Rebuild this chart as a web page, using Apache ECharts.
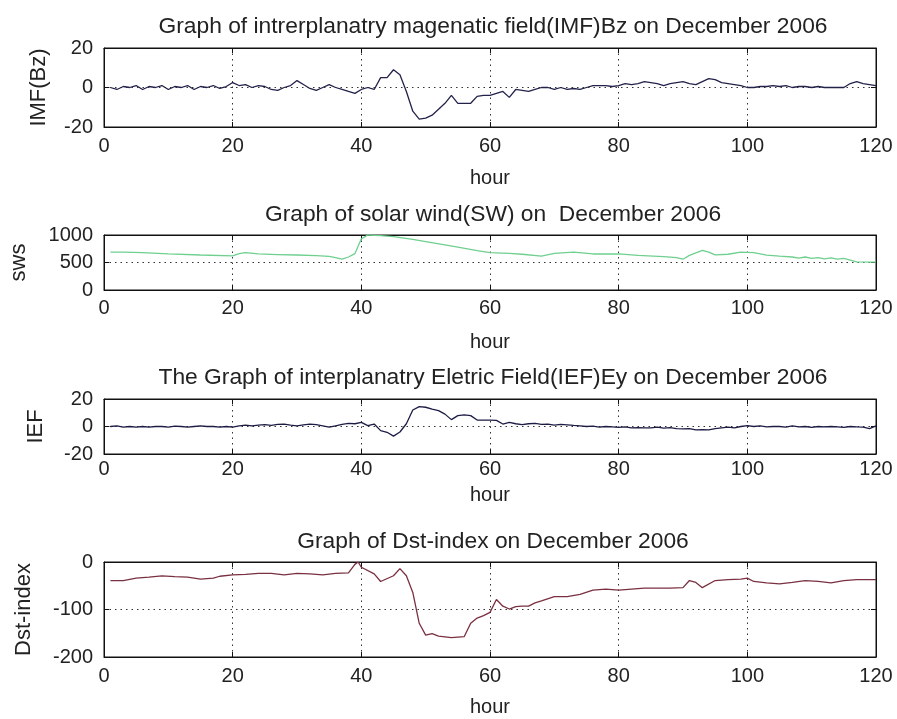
<!DOCTYPE html>
<html>
<head>
<meta charset="utf-8">
<script src="https://cdn.jsdelivr.net/npm/echarts@6/dist/echarts.min.js"></script>
<style>
html,body{margin:0;padding:0;background:#fff;}
#main{width:897px;height:719px;}
</style>
</head>
<body>
<div id="main"></div>
<script>
//各面板的数据,按图上读出的小时和数值
var imfHours = [1,2,3,4,5,6,7,8,9,10,11,12,13,14,15,16,17,18,19,20,21,22,23,24,25,26,27,28,29,30,31,32,33,34,35,36,37,38,39,40,41,42,43,44,45,46,47,48,49,50,51,52,53,54,55,56,57,58,59,60,61,62,63,64,65,66,67,68,69,70,71,72,73,74,75,76,77,78,79,80,81,82,83,84,85,86,87,88,89,90,91,92,93,94,95,96,97,98,99,100,101,102,103,104,105,106,107,108,109,110,111,112,113,114,115,116,117,118,119,120];
var imfValues = [0,-1,0.5,0,1,-1,0.5,0,1,-1,0.5,0,1,-1,0.5,0,1,-0.5,0.5,2.5,1,1.5,0,1,0.5,-1,-1.5,0,1,3.5,1.5,-0.5,-1.5,0,1.5,0,-1,-2,-3,-1,0,-1,5,5,9,6.5,-2,-12,-16,-15.5,-14,-11,-8,-4,-8,-8,-8,-4.5,-4,-4,-3,-2,-5,-1,-1.5,-2,-1,0,0,-1,0,-1,-0.5,-1,0,1,1,1,0.5,1,2,1.5,2,3,2.5,2,1,2,2.5,3,2,1.5,3,4.5,4,2.5,2,1.5,1,0,0,0.5,0.5,1,0.5,1,0,0.5,0.5,0,0.5,0,0,0,0,2,3,2,1.5,1];

var swsHours = [1,3,6,10,15,20,21,22,24,27,30,33,35,36,37,38,39,40,41,43,45,48,50,53,55,58,60,63,65,68,70,73,76,80,83,87,89,90,91,93,94,95,97,99,101,103,105,107,108,109,110,111,112,113,114,115,117,120];
var swsValues = [690,690,680,655,636,620,660,680,655,645,636,625,610,590,560,600,660,930,1000,990,970,920,880,820,780,715,680,665,650,615,665,690,655,655,630,605,590,560,630,720,690,640,650,690,680,635,615,600,580,600,575,590,565,585,560,575,510,505];

var iefHours = imfHours;
var iefValues = [0,0.5,-0.5,0,-0.5,0,-0.5,0,0,-0.5,0.3,0,-0.5,0,0.5,0,0,-0.5,0,-0.5,0.5,1,0.5,1,1.3,0.8,1.5,1.8,1,0.5,1.2,1.8,1.3,0.5,-0.5,0.5,1.5,2.3,2,3,0.6,1.8,-3,-4.2,-7,-4,2,12,14.5,14,12.7,11.5,9,5,7.9,8.4,7.9,4.7,4.7,4.7,4.5,1.8,3,2,1.3,2,2.3,1.5,1.8,1,1.5,1.2,0.8,0.5,0,0.3,-0.5,0,-0.3,-0.6,-0.3,-1,-0.8,-1,-1,-0.5,-1.2,-0.8,-1.5,-1.8,-1.5,-2.5,-2.2,-2.5,-1.5,-1,-0.5,-1,0,0.6,0,0.5,-0.3,0,0,-0.5,0.5,-0.3,0,-0.6,0,-0.3,0,-0.3,-0.6,0,-0.3,-0.5,-1.5,0.5];

var dstHours = [1,3,5,7,9,11,13,15,17,18,20,22,24,26,28,30,32,34,36,38,39,39.5,40,42,43,45,46,47,48,49,50,51,52,54,56,57,58,59,60,61,62,63,64,65,66,67,68,70,72,74,76,78,80,82,84,86,88,90,91,92,93,95,97,99,100,101,103,105,107,109,111,113,115,117,119,120];
var dstValues = [-39,-39,-34,-32,-29,-31,-32,-36,-34,-30,-27,-26,-24,-24,-27,-24,-25,-27,-24,-23,-5,0,-11,-25,-41,-29,-14,-29,-64,-129,-154,-151,-156,-159,-157,-129,-118,-113,-106,-79,-93,-99,-94,-93,-93,-86,-82,-73,-73,-68,-59,-57,-59,-57,-55,-55,-55,-54,-39,-43,-54,-39,-37,-36,-34,-41,-44,-46,-43,-39,-41,-44,-39,-37,-37,-37];

var titles = [
	'Graph of intrerplanatry magenatic field(IMF)Bz on December 2006',
	'Graph of solar wind(SW) on  December 2006',
	'The Graph of interplanatry Eletric Field(IEF)Ey on December 2006',
	'Graph of Dst-index on December 2006'
];
var yNames = ['IMF(Bz)', 'sws', 'IEF', 'Dst-index'];
var yRanges = [[-20, 20, 20], [0, 1000, 500], [-20, 20, 20], [-200, 0, 100]];
var xTicks = [0, 20, 40, 60, 80, 100, 120];

//每个面板的位置
var panels = [
	{top: 48, height: 79, titleTop: 10, labelGap: 9, nameGap: 41, yNameGap: 54, color: '#22224a'},
	{top: 235, height: 55, titleTop: 198, labelGap: 8, nameGap: 42, yNameGap: 74, color: '#6fcf8f'},
	{top: 399, height: 55, titleTop: 361, labelGap: 5, nameGap: 31, yNameGap: 57, color: '#1c1c44'},
	{top: 562, height: 95, titleTop: 525, labelGap: 9, nameGap: 40, yNameGap: 69, color: '#7a3040'}
];
var seriesData = [
	[imfHours, imfValues],
	[swsHours, swsValues],
	[iefHours, iefValues],
	[dstHours, dstValues]
];

var fontFamily = 'Liberation Sans, Arial, sans-serif';
var textColor = '#222';
var dotted = {color: '#333', width: 1, type: [1.5, 4]};

function pairs(xs, ys){
	var out = [];
	for (var k = 0; k < xs.length; k++) out.push([xs[k], ys[k]]);
	return out;
}

var option = {
	animation: false,
	backgroundColor: '#fff',
	title: [], grid: [], xAxis: [], yAxis: [], series: []
};

panels.forEach(function(p, i){
	option.title.push({
		text: titles[i], left: 488, top: p.titleTop, textAlign: 'center',
		textStyle: {fontSize: 22.8, fontWeight: 'normal', color: textColor, fontFamily: fontFamily}
	});
	option.grid.push({left: 104, right: 21, top: p.top, height: p.height,
		show: true, borderColor: '#111', borderWidth: 1, backgroundColor: '#fff'});
	//下方x轴
	option.xAxis.push({
		type: 'value', gridIndex: i, min: xTicks[0], max: xTicks[xTicks.length - 1], interval: 20,
		axisLine: {show: true, onZero: false, lineStyle: {color: '#111'}},
		axisTick: {inside: true, length: 5, lineStyle: {color: '#111'}},
		axisLabel: {fontSize: 20, color: textColor, fontFamily: fontFamily, margin: p.labelGap},
		splitLine: {show: true, lineStyle: dotted},
		name: 'hour', nameLocation: 'middle', nameGap: p.nameGap,
		nameTextStyle: {fontSize: 20, color: textColor, fontFamily: fontFamily}
	});
	//上方只画刻度
	option.xAxis.push({
		type: 'value', gridIndex: i, position: 'top', min: 0, max: 120, interval: 20,
		axisLine: {show: true, onZero: false, lineStyle: {color: '#111'}},
		axisTick: {inside: true, length: 5, lineStyle: {color: '#111'}},
		axisLabel: {show: false}, splitLine: {show: false}
	});
	var r = yRanges[i];
	option.yAxis.push({
		type: 'value', gridIndex: i, min: r[0], max: r[1], interval: r[2],
		axisLine: {show: true, onZero: false, lineStyle: {color: '#111'}},
		axisTick: {show: true, inside: true, length: 5, lineStyle: {color: '#111'}},
		axisLabel: {fontSize: 20, color: textColor, fontFamily: fontFamily, margin: 11,
			formatter: function(v){ return String(v); }},
		splitLine: {show: true, lineStyle: dotted},
		name: yNames[i], nameLocation: 'middle', nameGap: p.yNameGap,
		nameTextStyle: {fontSize: 22, color: textColor, fontFamily: fontFamily}
	});
	option.yAxis.push({
		type: 'value', gridIndex: i, position: 'right', min: r[0], max: r[1], interval: r[2],
		axisLine: {show: true, onZero: false, lineStyle: {color: '#111'}},
		axisTick: {show: true, inside: true, length: 5, lineStyle: {color: '#111'}},
		axisLabel: {show: false}, splitLine: {show: false}
	});
	option.series.push({
		type: 'line', xAxisIndex: 2 * i, yAxisIndex: 2 * i,
		data: pairs(seriesData[i][0], seriesData[i][1]),
		showSymbol: false, clip: true,
		lineStyle: {color: p.color, width: 1.3}
	});
});

var myChart = echarts.init(document.getElementById('main'));
myChart.setOption(option);
</script>
</body>
</html>
